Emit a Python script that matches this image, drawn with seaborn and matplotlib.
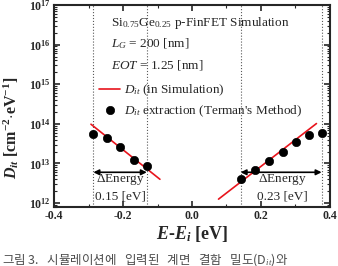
import numpy as np
import matplotlib
matplotlib.use("Agg")
import matplotlib.pyplot as plt
import seaborn as sns

# extracted points (Terman's method)
left_e = [-0.286, -0.247, -0.209, -0.168, -0.130]
left_dit = [5.4e13, 4.5e13, 2.6e13, 1.2e13, 8.6e12]
right_e = [0.141, 0.183, 0.223, 0.263, 0.303, 0.339, 0.376]
right_dit = [4.0e12, 6.8e12, 1.17e13, 2.0e13, 3.4e13, 5.2e13, 5.9e13]

# simulated Dit lines (end points)
sim_left_e = [-0.293, -0.093]
sim_left_dit = [9.8e13, 4.0e12]
sim_right_e = [0.077, 0.361]
sim_right_dit = [1.26e12, 1.02e14]

# energy windows
win_left = [-0.286, -0.131]
win_right = [0.141, 0.376]
arrow_dit = 6.0e12

sns.set_style("ticks")
plt.rcParams["font.family"] = ["Liberation Serif", "DejaVu Serif"]
plt.rcParams["mathtext.fontset"] = "custom"
plt.rcParams["mathtext.rm"] = "Liberation Serif"
plt.rcParams["mathtext.it"] = "Liberation Serif:italic"
plt.rcParams["mathtext.bf"] = "Liberation Serif:bold"
plt.rcParams["mathtext.bfit"] = "Liberation Serif:italic:bold"

fig = plt.figure(figsize=(3.38, 2.66), dpi=100)
ax = fig.add_axes([0.160, 0.222, 0.816, 0.759])

for x in win_left + win_right:
    ax.axvline(x, color="0.35", ls=":", lw=0.8, zorder=1)

sns.lineplot(x=sim_left_e, y=sim_left_dit, ax=ax, color="#e8141c", lw=1.2,
             label=r"$\mathit{D}_{\mathit{it}}$ (in Simulation)")
sns.lineplot(x=sim_right_e, y=sim_right_dit, ax=ax, color="#e8141c", lw=1.2)
sns.scatterplot(x=left_e + right_e, y=left_dit + right_dit, ax=ax, color="black",
                s=36, edgecolor="black", zorder=3,
                label=r"$\mathit{D}_{\mathit{it}}$ extraction (Terman's Method)")

ax.set_yscale("log")
ax.set_ylim(8e11, 1e17)
ax.set_xlim(-0.4, 0.4)
ax.set_xticks([-0.4, -0.2, 0.0, 0.2, 0.4])
ax.set_xticklabels(["-0.4", "-0.2", "0.0", "0.2", "0.4"])
ax.set_xticks(np.arange(-0.4, 0.41, 0.1), minor=True)
ax.tick_params(which="both", direction="in", top=True, right=True)
ax.tick_params(which="major", length=4, width=1.2, labelsize=8.5, pad=2.5)
ax.tick_params(which="minor", length=2, width=0.8)
for lab in ax.get_xticklabels() + ax.get_yticklabels():
    lab.set_fontweight("bold")
for s in ax.spines.values():
    s.set_linewidth(1.5)

for a, b in (win_left, win_right):
    ax.annotate("", xy=(a, arrow_dit), xytext=(b, arrow_dit),
                arrowprops=dict(arrowstyle="<|-|>", color="black", lw=1.2,
                                mutation_scale=8, shrinkA=0, shrinkB=0))
ax.text(-0.209, 3.9e12, r"$\Delta$Energy", ha="center", va="center", fontsize=9.5)
ax.text(-0.207, 1.5e12, "0.15 [eV]", ha="center", va="center", fontsize=9.5)
ax.text(0.261, 3.9e12, r"$\Delta$Energy", ha="center", va="center", fontsize=9.5)
ax.text(0.263, 1.5e12, "0.23 [eV]", ha="center", va="center", fontsize=9.5)

ax.text(0.207, 0.912, r"Si$_{0.75}$Ge$_{0.25}$ p-FinFET Simulation",
        transform=ax.transAxes, fontsize=9.5, va="center")
ax.text(0.207, 0.807, r"$\mathit{L}_{\mathit{G}}$ = 200 [nm]",
        transform=ax.transAxes, fontsize=9.5, va="center")
ax.text(0.207, 0.703, r"$\mathit{EOT}$ = 1.25 [nm]",
        transform=ax.transAxes, fontsize=9.5, va="center")

ax.legend(loc="upper left", bbox_to_anchor=(0.145, 0.64), frameon=False,
          fontsize=9.5, handlelength=1.6, handletextpad=0.3, labelspacing=0.35,
          borderaxespad=0)

ax.set_xlabel(r"$\mathbfit{E}$-$\mathbfit{E}_{\mathbfit{i}}$ [eV]",
              fontsize=13, fontweight="bold", labelpad=1)
ax.set_ylabel(r"$\mathbfit{D}_{\mathbfit{it}}$ [cm$^{\mathbf{-2}}$$\mathbf{\cdot}$eV$^{\mathbf{-1}}$]",
              fontsize=11.5, fontweight="bold")
ax.yaxis.set_label_coords(-0.12, 0.39)

fig.text(0.005, 0.058, "그림 3.   시뮬레이션에   입력된   계면   결함   밀도(D$_{it}$)와",
         family=["Noto Sans CJK KR", "DejaVu Sans"], fontsize=9, color="0.3",
         va="top", ha="left")

fig.savefig("out.png", dpi=100)
